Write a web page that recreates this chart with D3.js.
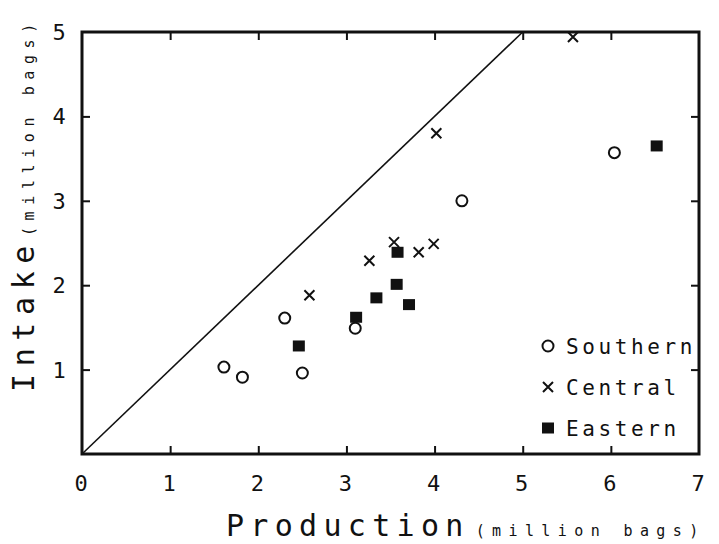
<!DOCTYPE html>
<html>
<head>
<meta charset="utf-8">
<script src="https://cdn.jsdelivr.net/npm/d3@7/dist/d3.min.js"></script>
<style>
  html, body { margin: 0; padding: 0; background: #fff; }
  svg { display: block; }
  text { font-family: "DejaVu Sans Mono", "Liberation Mono", monospace; fill: #111; }
</style>
</head>
<body>
<svg id="chart" width="719" height="544"></svg>
<script>
// Regional production vs. intake, million bags
const southern = [
  [1.61, 1.03], [1.82, 0.91], [2.30, 1.61], [2.50, 0.96],
  [3.10, 1.49], [4.31, 3.00], [6.04, 3.57]
];
const central = [
  [2.58, 1.88], [3.26, 2.29], [3.54, 2.51], [3.82, 2.39],
  [3.99, 2.49], [4.02, 3.80], [5.57, 4.94]
];
const eastern = [
  [2.46, 1.28], [3.11, 1.62], [3.34, 1.85], [3.58, 2.39],
  [3.57, 2.01], [3.71, 1.77], [6.52, 3.65]
];
const xTicks = [0, 1, 2, 3, 4, 5, 6, 7];
const yTicks = [1, 2, 3, 4, 5];
const legendLabels = ["Southern", "Central", "Eastern"];
const equalityLine = [[0, 0], [5, 5]];

const svg = d3.select("#chart");
const m = { left: 82, right: 699, top: 32, bottom: 454 };

const x = d3.scaleLinear().domain([0, 7]).range([m.left, m.right]);
const y = d3.scaleLinear().domain([0, 5]).range([m.bottom, m.top]);

const ink = "#111";

// Inward ticks on all four sides
const tickLen = 8;
function styleTicks(g) {
  g.select(".domain").remove();
  g.selectAll("line").attr("stroke", ink).attr("stroke-width", 2);
}
svg.append("g").attr("transform", `translate(0,${m.bottom})`)
  .call(d3.axisTop(x).tickValues(xTicks.slice(1, -1)).tickSize(tickLen).tickFormat(""))
  .call(styleTicks);
svg.append("g").attr("transform", `translate(0,${m.top})`)
  .call(d3.axisBottom(x).tickValues(xTicks.slice(1, -1)).tickSize(tickLen).tickFormat(""))
  .call(styleTicks);
svg.append("g").attr("transform", `translate(${m.left},0)`)
  .call(d3.axisRight(y).tickValues(yTicks.slice(0, -1)).tickSize(tickLen).tickFormat(""))
  .call(styleTicks);
svg.append("g").attr("transform", `translate(${m.right},0)`)
  .call(d3.axisLeft(y).tickValues(yTicks.slice(0, -1)).tickSize(tickLen).tickFormat(""))
  .call(styleTicks);

// Frame
svg.append("rect")
  .attr("x", m.left).attr("y", m.top)
  .attr("width", m.right - m.left).attr("height", m.bottom - m.top)
  .attr("fill", "none").attr("stroke", ink).attr("stroke-width", 3);

// Tick labels
svg.append("g").selectAll("text").data(xTicks).join("text")
  .attr("x", d => x(d) - 1).attr("y", m.bottom + 37)
  .attr("text-anchor", "middle")
  .attr("font-size", 22)
  .text(d => d);
svg.append("g").selectAll("text").data(yTicks).join("text")
  .attr("x", 59).attr("y", d => y(d) + 8)
  .attr("text-anchor", "middle")
  .attr("font-size", 22)
  .text(d => d);

// 1:1 reference line
svg.append("path")
  .datum(equalityLine)
  .attr("d", d3.line().x(d => x(d[0])).y(d => y(d[1])))
  .attr("fill", "none").attr("stroke", ink).attr("stroke-width", 1.6);

// Markers
const sym = {
  circle: g => g.append("circle").attr("r", 5.5).attr("fill", "#fff")
    .attr("stroke", ink).attr("stroke-width", 2),
  cross: g => g.append("path").attr("d", "M-5,-5L5,5M-5,5L5,-5")
    .attr("stroke", ink).attr("stroke-width", 2).attr("fill", "none"),
  square: g => g.append("rect").attr("x", -6).attr("y", -5.5)
    .attr("width", 12).attr("height", 11).attr("fill", ink)
};

function plot(data, draw) {
  svg.append("g").selectAll("g").data(data).join("g")
    .attr("transform", d => `translate(${x(d[0])},${y(d[1])})`)
    .each(function () { draw(d3.select(this)); });
}
plot(southern, sym.circle);
plot(central, sym.cross);
plot(eastern, sym.square);

// Legend
const legendY = [346, 387, 428];
const drawers = [sym.circle, sym.cross, sym.square];
legendLabels.forEach((label, i) => {
  const g = svg.append("g").attr("transform", `translate(548,${legendY[i]})`);
  drawers[i](g);
  g.append("text").attr("x", 18).attr("y", 8)
    .attr("font-size", 21).attr("letter-spacing", 3.6)
    .text(label);
});

// Axis titles
const xt = svg.append("text").attr("x", 226).attr("y", 536);
xt.append("tspan").attr("font-size", 30).attr("letter-spacing", 6.3).text("Production");
xt.append("tspan").attr("font-size", 15).attr("letter-spacing", 7.4).attr("dx", 6).text("(million bags)");

const yt = svg.append("text").attr("transform", "translate(34,392) rotate(-90)");
yt.append("tspan").attr("font-size", 30).attr("letter-spacing", 7.6).text("Intake");
yt.append("tspan").attr("font-size", 15).attr("letter-spacing", 6.6).attr("dx", 2).text("(million bags)");
</script>
</body>
</html>
